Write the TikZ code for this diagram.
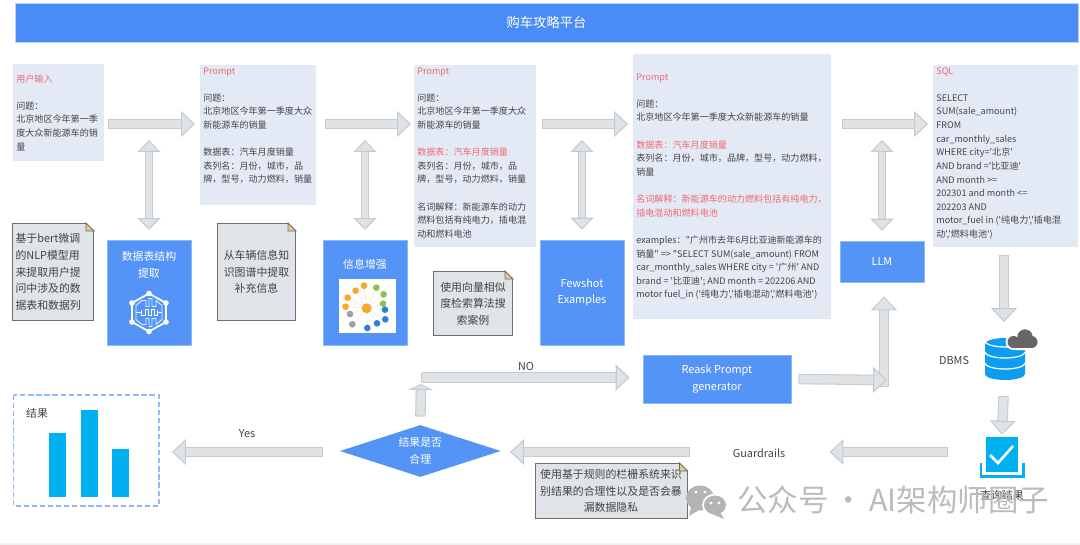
\documentclass[tikz,border=0pt]{standalone}
\usepackage{fontspec}
\setmainfont{Noto Sans CJK SC}[Ligatures=TeXOff]
\usepackage{xcolor}
\usepackage{tikz}
\usetikzlibrary{arrows.meta,calc,shapes.geometric}
\definecolor{PlanBlue}{HTML}{4A8CF6}
\definecolor{BlockBlue}{HTML}{5594F7}
\definecolor{BlockEdge}{HTML}{8DB8FA}
\definecolor{PaleBox}{HTML}{E4EAF5}
\definecolor{PromptRed}{HTML}{EE6A6E}
\definecolor{BodyGrey}{HTML}{444444}
\definecolor{FatFill}{HTML}{E0E3E6}
\definecolor{FatEdge}{HTML}{C8CBCE}
\definecolor{NoteFill}{HTML}{E0E3E7}
\definecolor{NoteEdge}{HTML}{6E6E6E}
\definecolor{NoteFold}{HTML}{E6CE7E}
\definecolor{SkyBar}{HTML}{00B0F0}
\definecolor{DbBlue}{HTML}{0C9CF0}
\definecolor{CloudGrey}{HTML}{666666}
\definecolor{MarkGrey}{HTML}{B4B4B4}
\definecolor{DotOrange}{HTML}{F9A825}
\definecolor{DotGreen}{HTML}{8BC34A}
\definecolor{DotBlue}{HTML}{2F7FD8}
\definecolor{DotGrey}{HTML}{A0A0A0}
\newlength{\pxu}
\setlength{\pxu}{0.02cm}
\newcommand{\smallfont}{\fontsize{5.16}{7.75}\selectfont}
\newcommand{\midfont}{\fontsize{6.2}{9.45}\selectfont}
\newcommand{\boxtext}[4]{\parbox[c][#2\pxu][t]{#1\pxu}{\vspace*{#3\pxu}#4}}
\newcommand{\red}[1]{\textcolor{PromptRed}{#1}}
\tikzset{
  textbox/.style={anchor=north west,fill=PaleBox,inner xsep=3\pxu,inner ysep=0pt,font=\smallfont,text=BodyGrey},
  blockbox/.style={fill=BlockBlue,draw=BlockEdge,line width=0.4pt,inner sep=0pt,font=\midfont,text=white,align=center},
  notebox/.style={fill=NoteFill,draw=NoteEdge,line width=0.6pt,inner sep=0pt,font=\midfont,text=BodyGrey,align=center},
  plainlabel/.style={font=\midfont,text=BodyGrey,inner sep=0pt},
  fatline/.style={draw=FatEdge,line width=0.6pt,double=FatFill,double distance=8.4\pxu},
  fatarrow/.style={fatline,{Bar[width=5.44pt,line width=0.6pt]}-{Triangle[length=7.94pt,width=14.74pt,fill=FatFill,line width=0.6pt]}},
  fatstub/.style={fatline,{Bar[width=5.44pt,line width=0.6pt]}-{Triangle[length=3.4pt,width=14.17pt,fill=FatFill,line width=0.6pt]}},
  fatlink/.style={draw=FatEdge,line width=0.6pt,double=FatFill,double distance=6.6\pxu,{Triangle[length=6.8pt,width=13.04pt,fill=FatFill,line width=0.6pt]}-{Triangle[length=6.8pt,width=13.04pt,fill=FatFill,line width=0.6pt]}},
  gapfrom/.style={shorten <=#1\pxu},
  gapto/.style={shorten >=#1\pxu},
}
\begin{document}
\begin{tikzpicture}[x=0.02cm,y=-0.02cm]
  \useasboundingbox (0,0) rectangle (1080,545);
  \fill[white] (0,0) rectangle (1080,545);
  \fill[black!6] (0,543) rectangle (1080,545);
  \coordinate (rowtop) at (0,124);
  \coordinate (rowlink) at (0,140);
  \coordinate (rowguard) at (0,452);
  \coordinate (bend) at (421,377.5);
  \coordinate (turn) at (884,380);
  \coordinate (outleft) at (172,452);

  \node[fill=PlanBlue,draw=PlanBlue!40,line width=0.4pt,minimum width=1063\pxu,minimum height=38.5\pxu,text=white,font=\fontsize{7.55}{9}\selectfont] (plan) at (546.5,22.8) {购车攻略平台};

  \node[textbox] (input) at (13,64) {\boxtext{85}{97}{10}{\red{用户输入}\\~\\问题：\\北京地区今年第一季\\度大众新能源车的销\\量}};
  \node[textbox] (prompta) at (200,65) {\boxtext{110}{140}{2}{\red{Prompt}\\~\\问题：\\北京地区今年第一季度大众\\新能源车的销量\\~\\数据表：汽车月度销量\\表列名：月份，城市，品\\牌，型号，动力燃料，销量}};
  \node[textbox] (promptb) at (414,65) {\boxtext{116}{182}{2}{\red{Prompt}\\~\\问题：\\北京地区今年第一季度大众\\新能源车的销量\\~\\\red{数据表：汽车月度销量}\\表列名：月份，城市，品\\牌，型号，动力燃料，销量\\~\\名词解释：新能源车的动力\\燃料包括有纯电力，插电混\\动和燃料电池}};
  \node[textbox] (promptc) at (633,54) {\boxtext{192}{265}{19}{\red{Prompt}\\~\\问题：\\北京地区今年第一季度大众新能源车的销量\\~\\\red{数据表：汽车月度销量}\\表列名：月份，城市，品牌，型号，动力燃料，\\销量\\~\\\red{名词解释：新能源车的动力燃料包括有纯电力，}\\\red{插电混动和燃料电池}\\~\\examples："广州市去年6月比亚迪新能源车的\\销量" => "SELECT SUM(sale\_amount) FROM\\car\_monthly\_sales WHERE city = '广州'  AND\\brand = '比亚迪'; AND month = 202206 AND\\motor fuel\_in ('纯电力','插电混动','燃料电池')}};
  \node[textbox] (sqlout) at (933,65) {\boxtext{139}{182}{2}{\red{SQL}\\~\\SELECT\\SUM(sale\_amount)\\FROM\\car\_monthly\_sales\\WHERE city='北京'\\AND brand ='比亚迪'\\AND month >=\\202301  and month <=\\202203 AND\\motor\_fuel in ('纯电力','插电混\\动','燃料电池')}};

  \node[blockbox,minimum width=84\pxu,minimum height=105\pxu,anchor=north] (tableblock) at (149,240) {\boxtext{84}{105}{11}{\centering 数据表结构\\提取}};
  \node[blockbox,minimum width=84\pxu,minimum height=105\pxu,anchor=north] (enhance) at (365,240) {\boxtext{84}{105}{19}{\centering 信息增强}};
  \node[blockbox,minimum width=84\pxu,minimum height=105\pxu] (fewshot) at (582,292.5) {Fewshot\\Examples};
  \node[blockbox,minimum width=84\pxu,minimum height=41\pxu] (llm) at (882,261.5) {LLM};
  \node[blockbox,minimum width=148\pxu,minimum height=48\pxu] (reask) at (717,379) {Reask Prompt\\generator};
  \node[diamond,fill=BlockBlue,inner sep=0pt,minimum width=161\pxu,minimum height=52\pxu,font=\midfont,text=white,align=center,aspect=3.1] (decision) at (420.3,451) {结果是否\\合理};

  \node[notebox,text width=75\pxu,inner xsep=3\pxu,minimum height=97\pxu,anchor=north west,align=left] (notebert) at (12,223) {基于bert微调\\的NLP模型用\\来提取用户提\\问中涉及的数\\据表和数据列};
  \node[notebox,minimum width=78\pxu,minimum height=97\pxu,anchor=north west] (notegraph) at (217,223) {从车辆信息知\\识图谱中提取\\补充信息};
  \node[notebox,minimum width=79\pxu,minimum height=64\pxu,anchor=north west] (notevector) at (433,271) {使用向量相似\\度检索算法搜\\索案例};
  \node[notebox,minimum width=152\pxu,minimum height=55\pxu,anchor=north west] (noterule) at (534.5,463) {使用基于规则的栏栅系统来识\\别结果的合理性以及是否会暴\\漏数据隐私};
  \foreach \notename in {notebert,notegraph,notevector,noterule} {
    \fill[white] ($(\notename.north east)+(-9,-1)$) -- ($(\notename.north east)+(1,-1)$) -- ($(\notename.north east)+(1,8)$) -- cycle;
    \draw[NoteEdge,line width=0.5pt,fill=NoteFold] ($(\notename.north east)+(-8,0)$) -- ($(\notename.north east)+(0,8)$) -- ($(\notename.north east)+(-8,8)$) -- cycle;
  }

  \node[plainlabel] (nolabel) at (526,367) {NO};
  \node[plainlabel] (yeslabel) at (247,434) {Yes};
  \node[plainlabel] (dbmslabel) at (954,361) {DBMS};
  \node[plainlabel] (guardlabel) at (759,453) {Guardrails};
  \node[plainlabel] (querylabel) at (1002,495) {查询结果};

  \draw[fatarrow,gapfrom=3,gapto=5] (input.east |- rowtop) -- (prompta.west |- rowtop);
  \draw[fatarrow,gapfrom=8,gapto=3] (prompta.east |- rowtop) -- (promptb.west |- rowtop);
  \draw[fatarrow,gapfrom=5,gapto=5] (promptb.east |- rowtop) -- (promptc.west |- rowtop);
  \draw[fatarrow,gapfrom=10,gapto=5] (promptc.east |- rowtop) -- (sqlout.west |- rowtop);
  \draw[fatlink,gapto=10] (tableblock.north |- rowlink) -- (tableblock.north);
  \draw[fatlink,gapto=10] (enhance.north |- rowlink) -- (enhance.north);
  \draw[fatlink,gapto=10] (fewshot.north |- rowlink) -- (fewshot.north);
  \draw[fatlink,gapto=10] (llm.north |- rowlink) -- (llm.north);

  \node[inner sep=0pt,minimum size=1\pxu] (dbms) at (1004,360) {};
  \node[inner sep=0pt,minimum width=44\pxu,minimum height=41\pxu] (queryicon) at (1002,457.5) {};
  \draw[fatarrow,gapfrom=7,gapto=16] (sqlout.south -| dbms) -- (dbms |- 0,338);
  \draw[fatarrow,gapfrom=13,gapto=2] (dbms |- 0,383) -- (queryicon.north);
  \draw[fatarrow,gapfrom=32,gapto=44] (queryicon.west |- rowguard) -- (guardlabel.east |- rowguard);
  \coordinate (guardstart) at ($(guardlabel.west |- rowguard)+(-42,0)$);
  \draw[fatarrow,gapto=9] (guardstart) -- (decision.east |- rowguard);
  \coordinate (yesstart) at ($(decision.west |- rowguard)+(-16,0)$);
  \draw[fatarrow] (yesstart) -- (outleft);
  \draw[fatstub,gapfrom=8,gapto=6.5] (decision.north) -- (bend);
  \draw[fatarrow,gapto=13] (bend) -- (reask.west |- bend);
  \coordinate (turnfoot) at ($(turn)+(0,7)$);
  \draw[fatarrow,gapto=14] (turnfoot) -- (llm.south -| turn);
  \draw[fatarrow,gapfrom=7,gapto=-3] (reask.east) -- (turn);

  \draw[BlockEdge,line width=0.7pt,dash pattern=on 3pt off 1.6pt] (13.5,395) rectangle (159,506);
  \node[plainlabel] (resultlabel) at (37,413) {结果};
  \fill[SkyBar] (49,433) rectangle (66,497);
  \fill[SkyBar] (81,410) rectangle (98,497);
  \fill[SkyBar] (112,449) rectangle (129,497);

  \begin{scope}[shift={(149,312.5)}]
    \draw[white,line width=1pt,line join=round] (0,-19) -- (17,-9.5) -- (17,9.5) -- (0,19) -- (-17,9.5) -- (-17,-9.5) -- cycle;
    \foreach \dotx/\doty in {0/-19,17/-9.5,17/9.5,0/19,-17/9.5,-17/-9.5}
      \fill[white] (\dotx,\doty) circle (2.8);
    \draw[white!85!cyan,line width=0.5pt] (-13,-7) -- (-7,-12) -- (-3,-12) -- (-3,-6) -- (0,-6) -- (0,-14) -- (3,-14) -- (3,-6) -- (7,-6) -- (7,-12) -- (13,-7) -- (13,7) -- (7,12) -- (7,6) -- (3,6) -- (3,14) -- (0,14) -- (0,6) -- (-3,6) -- (-3,12) -- (-7,12) -- (-13,7) -- cycle;
    \draw[white,line width=0.5pt] (-13,0) -- (-8,0) (-8,-3) -- (-8,3) -- (-4,3) -- (-4,-3) -- (-1,-3) -- (-1,3) -- (2,3) -- (2,-3) -- (5,-3) -- (5,3) -- (8,3) -- (8,-3) (8,0) -- (13,0);
  \end{scope}

  \fill[white] (339,279) rectangle (396,333);
  \begin{scope}[shift={(335,275)},x=0.00667cm,y=-0.00667cm]
    \foreach \dotx/\doty in {32/95,38/68,62/47,87/32,124/38,146/58,144/86,150/104,151/133,126/145,97/159,52/148,45/117}
      \draw[black!12,line width=0.2pt] (95,100) -- (\dotx,\doty);
    \foreach \dotx/\doty in {32/95,38/68,62/47,87/32}
      \fill[DotOrange] (\dotx,\doty) circle (10);
    \foreach \dotx/\doty in {124/38,146/58,144/86}
      \fill[DotGreen] (\dotx,\doty) circle (10);
    \foreach \dotx/\doty in {150/104,151/133,126/145,97/159}
      \fill[DotBlue] (\dotx,\doty) circle (10);
    \foreach \dotx/\doty in {52/148,45/117}
      \fill[DotGrey] (\dotx,\doty) circle (10);
    \fill[DotOrange] (95,100) circle (15);
  \end{scope}

  \fill[DbBlue] (985,344) arc[start angle=180,end angle=360,x radius=20,y radius=6] -- (1025,374) arc[start angle=0,end angle=180,x radius=20,y radius=6] -- cycle;
  \foreach \tier in {341,352,363}
    \draw[white,line width=0.7pt] (985,\tier) arc[start angle=180,end angle=0,x radius=20,y radius=6];
  \foreach \lobex/\lobey/\lober in {1025/337/7.7,1013.5/342/6,1031.5/342/6}
    \fill[white] (\lobex,\lobey) circle (\lober+2);
  \fill[white,rounded corners=2] (1011,340) rectangle (1039,350);
  \foreach \lobex/\lobey/\lober in {1025/337/7.7,1013.5/342/6,1031.5/342/6}
    \fill[CloudGrey] (\lobex,\lobey) circle (\lober);
  \fill[CloudGrey] (1013.5,341) rectangle (1031.5,348);

  \fill[SkyBar] (986,437) rectangle (1018,472);
  \draw[SkyBar,line width=1.7pt] (981,463) -- (981,476.5) -- (1023.5,476.5) -- (1023.5,463);
  \draw[white,line width=1.5pt] (990,455) -- (998,463) -- (1013,446);

  \fill[MarkGrey] (700,498) ellipse (14 and 12.5);
  \fill[MarkGrey] (691,507) -- (689,516) -- (699,510) -- cycle;
  \draw[white,line width=1pt,fill=MarkGrey] (715,505) ellipse (12 and 10.5);
  \fill[MarkGrey] (720,512) -- (724,519) -- (712,514) -- cycle;
  \foreach \eyex/\eyey in {696/492,705/492,711/503,719/503}
    \fill[white] (\eyex,\eyey) circle (1.7);
  \node[inner sep=0pt,text=MarkGrey,opacity=0.9,font=\fontsize{17.3}{20}\selectfont,anchor=west] (mark) at (737,500) {公众号\kern3pt·\kern3pt AI架构师圈子};
\end{tikzpicture}
\end{document}
